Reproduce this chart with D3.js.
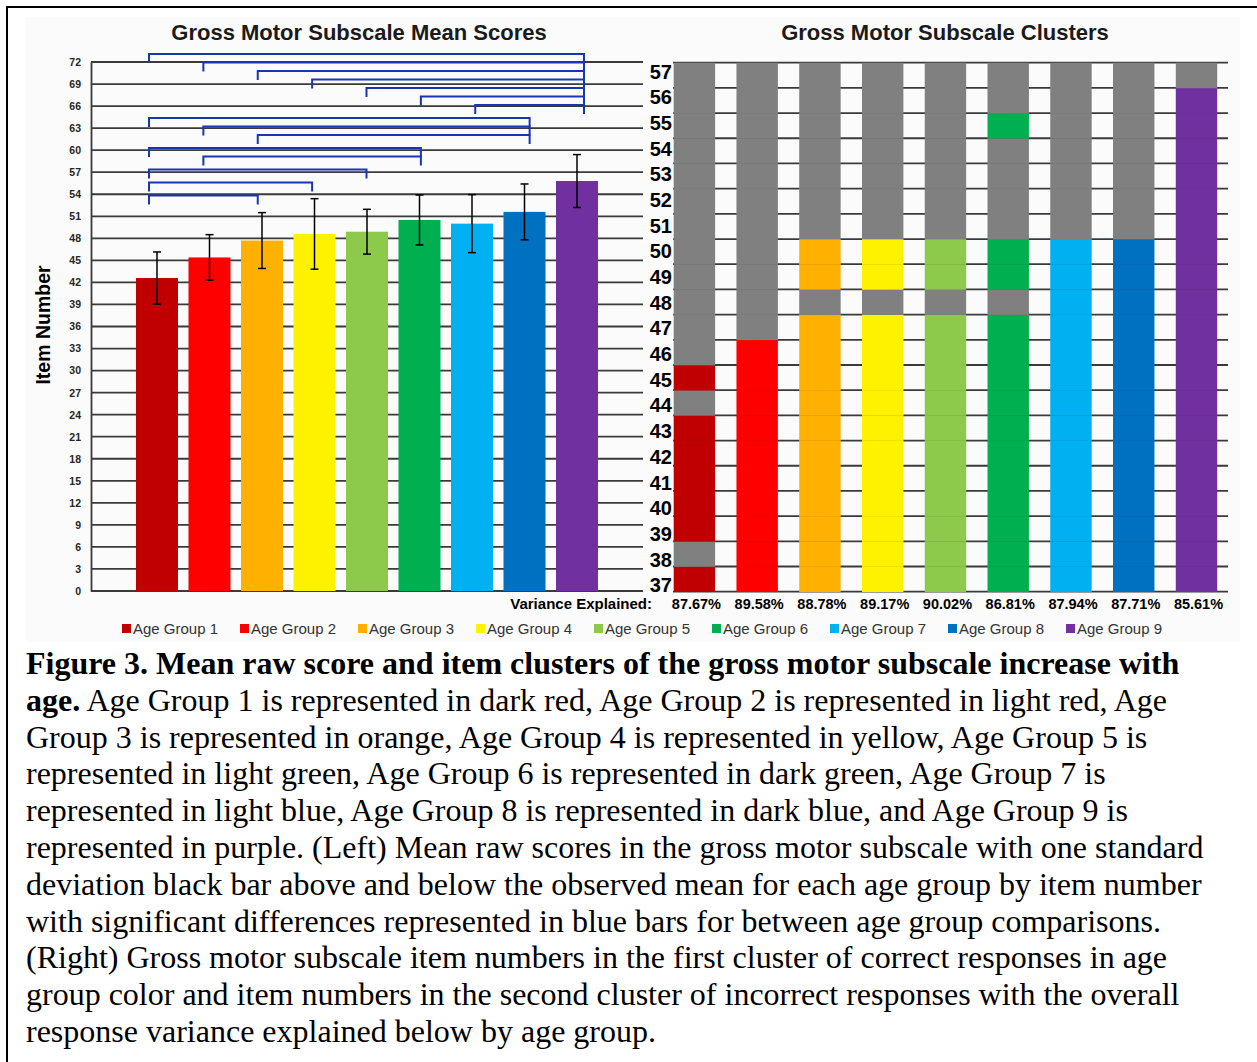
<!DOCTYPE html>
<html>
<head>
<meta charset="utf-8">
<script src="https://cdn.jsdelivr.net/npm/d3@7/dist/d3.min.js"></script>
<style>
  html, body { margin: 0; padding: 0; background: #ffffff; }
  svg { display: block; }
</style>
</head>
<body>
<svg id="fig" width="1257" height="1062"></svg>
<script>
// ---- Data -------------------------------------------------------------
const ageGroups = ["Age Group 1", "Age Group 2", "Age Group 3", "Age Group 4", "Age Group 5",
                   "Age Group 6", "Age Group 7", "Age Group 8", "Age Group 9"];
const groupColors = ["#c00000", "#ff0000", "#ffb000", "#fff200", "#8dc94a",
                     "#00b050", "#00b0f0", "#0070c0", "#7030a0"];

// Mean raw score (item number) and one standard deviation per age group
const meanScores = [42.6, 45.4, 47.7, 48.6, 48.9, 50.5, 50.0, 51.6, 55.8];
const stdDevs    = [3.55, 3.1, 3.8, 4.8, 3.05, 3.4, 3.95, 3.8, 3.6];

// Item-number axis ticks of the mean-score chart
const scoreTicks = [0, 3, 6, 9, 12, 15, 18, 21, 24, 27, 30, 33, 36, 39, 42, 45, 48, 51, 54, 57, 60, 63, 66, 69, 72];

// Significant between-group comparisons (group numbers), drawn top to bottom
const significantPairs = [[1, 9], [2, 9], [3, 9], [4, 9], [5, 9], [6, 9], [7, 9],
                          [1, 8], [2, 8], [3, 8],
                          [1, 6], [2, 6],
                          [1, 5],
                          [1, 4],
                          [1, 3]];

// Items shown in the cluster chart
const clusterItems = [37, 38, 39, 40, 41, 42, 43, 44, 45, 46, 47, 48, 49, 50, 51, 52, 53, 54, 55, 56, 57];

// Items in the first cluster (correct responses) for each age group;
// every other item belongs to the second cluster (incorrect responses)
const correctCluster = [
  [37, 39, 40, 41, 42, 43, 45],
  [37, 38, 39, 40, 41, 42, 43, 44, 45, 46],
  [37, 38, 39, 40, 41, 42, 43, 44, 45, 46, 47, 49, 50],
  [37, 38, 39, 40, 41, 42, 43, 44, 45, 46, 47, 49, 50],
  [37, 38, 39, 40, 41, 42, 43, 44, 45, 46, 47, 49, 50],
  [37, 38, 39, 40, 41, 42, 43, 44, 45, 46, 47, 49, 50, 55],
  [37, 38, 39, 40, 41, 42, 43, 44, 45, 46, 47, 48, 49, 50],
  [37, 38, 39, 40, 41, 42, 43, 44, 45, 46, 47, 48, 49, 50],
  [37, 38, 39, 40, 41, 42, 43, 44, 45, 46, 47, 48, 49, 50, 51, 52, 53, 54, 55, 56]
];
const varianceExplained = [87.67, 89.58, 88.78, 89.17, 90.02, 86.81, 87.94, 87.71, 85.61];

const captionLines = [
  [{ t: "Figure 3. Mean raw score and item clusters of the gross motor subscale increase with", b: true }],
  [{ t: "age.", b: true }, { t: " Age Group 1 is represented in dark red, Age Group 2 is represented in light red, Age" }],
  [{ t: "Group 3 is represented in orange, Age Group 4 is represented in yellow, Age Group 5 is" }],
  [{ t: "represented in light green, Age Group 6 is represented in dark green, Age Group 7 is" }],
  [{ t: "represented in light blue, Age Group 8 is represented in dark blue, and Age Group 9 is" }],
  [{ t: "represented in purple. (Left) Mean raw scores in the gross motor subscale with one standard" }],
  [{ t: "deviation black bar above and below the observed mean for each age group by item number" }],
  [{ t: "with significant differences represented in blue bars for between age group comparisons." }],
  [{ t: "(Right) Gross motor subscale item numbers in the first cluster of correct responses in age" }],
  [{ t: "group color and item numbers in the second cluster of incorrect responses with the overall" }],
  [{ t: "response variance explained below by age group." }]
];

// ---- Drawing ----------------------------------------------------------
const svg = d3.select("#fig");
const SANS = "'Liberation Sans', Arial, Helvetica, sans-serif";
const SERIF = "'Liberation Serif', 'Times New Roman', Times, serif";
const GREY_CELL = "#808080";
const GRID = "#3a3a3a";
const BRACKET = "#1a35b4";

// figure frame and chart panel
svg.append("rect").attr("x", 26).attr("y", 17).attr("width", 1214).attr("height", 625)
  .attr("fill", "#fbfbfb");
svg.append("path").attr("d", "M7,1062V7H1257")
  .attr("fill", "none").attr("stroke", "#000").attr("stroke-width", 2);

// ---------- Left: mean scores ----------
const y = d3.scaleLinear().domain([0, 72]).range([591, 62]);
const x = d3.scaleBand().domain(ageGroups).range([130.75, 603.25])
  .paddingInner(0.2).paddingOuter(0.1);
// positions of the comparison brackets along the group axis
const xBracket = d3.scalePoint().domain(d3.range(1, 10)).range([149, 584]);

const left = svg.append("g");

left.append("text").attr("x", 359).attr("y", 40).attr("text-anchor", "middle")
  .attr("font-family", SANS).attr("font-weight", "bold").attr("font-size", 22)
  .attr("fill", "#1a1a1a").text("Gross Motor Subscale Mean Scores");

// horizontal gridlines
left.append("g").selectAll("line").data(scoreTicks).join("line")
  .attr("x1", 91).attr("x2", 643)
  .attr("y1", d => y(d)).attr("y2", d => y(d))
  .attr("stroke", GRID).attr("stroke-width", 1.8);

// vertical axis with tick labels
const yAxis = d3.axisLeft(y).tickValues(scoreTicks).tickSize(0).tickPadding(10);
const yAxisG = left.append("g").attr("transform", "translate(91,0)").call(yAxis);
yAxisG.select(".domain").attr("stroke", GRID).attr("stroke-width", 1.8);
yAxisG.selectAll("text").attr("font-family", SANS).attr("font-weight", "bold")
  .attr("font-size", 10.5).attr("fill", "#262626");

left.append("text")
  .attr("transform", "translate(50,325) rotate(-90)")
  .attr("text-anchor", "middle")
  .attr("font-family", SANS).attr("font-weight", "bold").attr("font-size", 19.5)
  .attr("fill", "#000").text("Item Number");

// bars
left.append("g").selectAll("rect").data(meanScores).join("rect")
  .attr("x", (d, i) => x(ageGroups[i]))
  .attr("width", x.bandwidth())
  .attr("y", d => y(d))
  .attr("height", d => y(0) - y(d))
  .attr("fill", (d, i) => groupColors[i]);

// error bars (one standard deviation)
const eb = left.append("g").attr("stroke", "#000").attr("stroke-width", 1.5);
meanScores.forEach((m, i) => {
  const cx = x(ageGroups[i]) + x.bandwidth() / 2;
  const hi = y(m + stdDevs[i]), lo = y(m - stdDevs[i]);
  eb.append("line").attr("x1", cx).attr("x2", cx).attr("y1", hi).attr("y2", lo);
  eb.append("line").attr("x1", cx - 4).attr("x2", cx + 4).attr("y1", hi).attr("y2", hi);
  eb.append("line").attr("x1", cx - 4).attr("x2", cx + 4).attr("y1", lo).attr("y2", lo);
});

// significance brackets: stacked rows, grouped by the shared right-hand group
const bracketTop = 54, bracketStep = 8.5, clusterGap = 4.5, legLen = 9;
let level = bracketTop;
const bracketRows = significantPairs.map((p, i) => {
  if (i > 0) {
    level += bracketStep;
    if (p[1] !== significantPairs[i - 1][1]) level += clusterGap;
  }
  return { a: p[0], b: p[1], yPos: level };
});
left.append("g").selectAll("path").data(bracketRows).join("path")
  .attr("d", d => `M${xBracket(d.a)},${d.yPos + legLen}V${d.yPos}H${xBracket(d.b)}V${d.yPos + legLen}`)
  .attr("fill", "none").attr("stroke", BRACKET).attr("stroke-width", 2);

// ---------- Right: item clusters ----------
const itemsTopDown = clusterItems.slice().reverse();
const yc = d3.scaleBand().domain(itemsTopDown).range([62.7, 591.7]);
const ycLabel = d3.scalePoint().domain(itemsTopDown).range([71.5, 585]);
const xc = d3.scaleBand().domain(ageGroups).range([673.7, 1217.2]).paddingInner(0.34).paddingOuter(0);

const right = svg.append("g");
right.append("text").attr("x", 945).attr("y", 40).attr("text-anchor", "middle")
  .attr("font-family", SANS).attr("font-weight", "bold").attr("font-size", 22)
  .attr("fill", "#1a1a1a").text("Gross Motor Subscale Clusters");

// row boundaries
const rowEdges = itemsTopDown.map(d => yc(d)).concat([yc(itemsTopDown[itemsTopDown.length - 1]) + yc.bandwidth()]);
right.append("g").selectAll("line").data(rowEdges).join("line")
  .attr("x1", 673).attr("x2", 1228)
  .attr("y1", d => d).attr("y2", d => d)
  .attr("stroke", GRID).attr("stroke-width", 1.8);

// cells
const cells = [];
ageGroups.forEach((g, gi) => {
  clusterItems.forEach(item => {
    cells.push({ g, gi, item, correct: correctCluster[gi].includes(item) });
  });
});
right.append("g").selectAll("rect").data(cells).join("rect")
  .attr("x", d => xc(d.g))
  .attr("width", xc.bandwidth())
  .attr("y", d => yc(d.item))
  .attr("height", yc.bandwidth() + 0.3)
  .attr("fill", d => d.correct ? groupColors[d.gi] : GREY_CELL);

// item labels
right.append("g").selectAll("text").data(itemsTopDown).join("text")
  .attr("x", 672).attr("y", d => ycLabel(d))
  .attr("dy", "0.36em")
  .attr("text-anchor", "end")
  .attr("font-family", SANS).attr("font-weight", "bold").attr("font-size", 20)
  .attr("fill", "#000").text(d => d);

// variance explained
right.append("text").attr("x", 652).attr("y", 609).attr("text-anchor", "end")
  .attr("font-family", SANS).attr("font-weight", "bold").attr("font-size", 15)
  .attr("fill", "#000").text("Variance Explained:");
right.append("g").selectAll("text").data(varianceExplained).join("text")
  .attr("x", (d, i) => xc(ageGroups[i]) + xc.bandwidth() / 2 + 2)
  .attr("y", 609).attr("text-anchor", "middle")
  .attr("font-family", SANS).attr("font-weight", "bold").attr("font-size", 14.5)
  .attr("fill", "#000").text(d => d.toFixed(2) + "%");

// ---------- Legend ----------
const xLegend = d3.scaleBand().domain(ageGroups).range([122, 122 + 9 * 118]);
const lg = svg.append("g").selectAll("g").data(ageGroups).join("g")
  .attr("transform", d => `translate(${xLegend(d)},624)`);
lg.append("rect").attr("width", 9).attr("height", 9)
  .attr("fill", (d, i) => groupColors[i]);
lg.append("text").attr("x", 11).attr("y", 9.5)
  .attr("font-family", SANS).attr("font-size", 15).attr("fill", "#333")
  .text(d => d);

// ---------- Caption ----------
const cap = svg.append("g").attr("font-family", SERIF).attr("font-size", 32).attr("fill", "#000");
captionLines.forEach((parts, li) => {
  const t = cap.append("text").attr("x", 26).attr("y", 674 + li * 36.8);
  parts.forEach(p => {
    t.append("tspan").attr("font-weight", p.b ? "bold" : null).text(p.t);
  });
});
</script>
</body>
</html>
